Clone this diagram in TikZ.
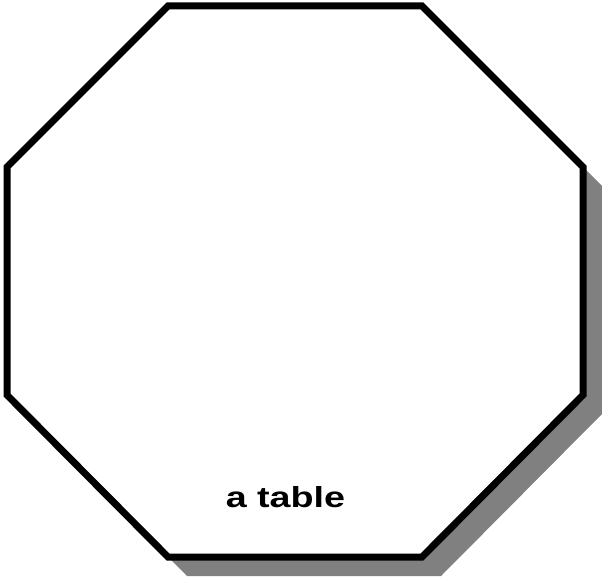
\documentclass[tikz,border=0pt]{standalone}
\usepackage{fontspec}
\setmainfont{Liberation Sans}
\newfontfamily\lblfont[FakeStretch=1.3]{Liberation Sans}
\usepackage{tikz}
\usetikzlibrary{positioning}
\usepackage{xcolor}
\definecolor{cShadow}{RGB}{128,128,128}
\tikzset{
  octline/.style={draw=black,line width=7pt,line join=miter,fill=white},
  octshadow/.style={fill=cShadow,draw=none},
  lbltext/.style={font=\lblfont\fontsize{29}{34}\selectfont\bfseries,
                  inner sep=0pt,anchor=base}
}

\begin{document}
\begin{tikzpicture}[x=1pt,y=-1pt]
  \useasboundingbox (0,0) rectangle (602,580);

  % corners of the octagon
  \coordinate (t1) at (168,6);
  \coordinate (t2) at (422,6);
  \coordinate (r1) at (583,167);
  \coordinate (r2) at (583,395);
  \coordinate (b2) at (422,557);
  \coordinate (b1) at (168,557);
  \coordinate (l2) at (7,395);
  \coordinate (l1) at (7,167);

  % drop shadow
  \fill[octshadow]
    ([shift={(19,19)}]t1) -- ([shift={(19,19)}]t2) -- ([shift={(19,19)}]r1)
    -- ([shift={(19,19)}]r2) -- ([shift={(19,19)}]b2) -- ([shift={(19,19)}]b1)
    -- ([shift={(19,19)}]l2) -- ([shift={(19,19)}]l1) -- cycle;

  % the table
  \draw[octline]
    (t1) -- (t2) -- (r1) -- (r2) -- (b2) -- (b1) -- (l2) -- (l1) -- cycle;

  \node[lbltext] (tbl) at (285.5,507) {a table};

\end{tikzpicture}
\end{document}
